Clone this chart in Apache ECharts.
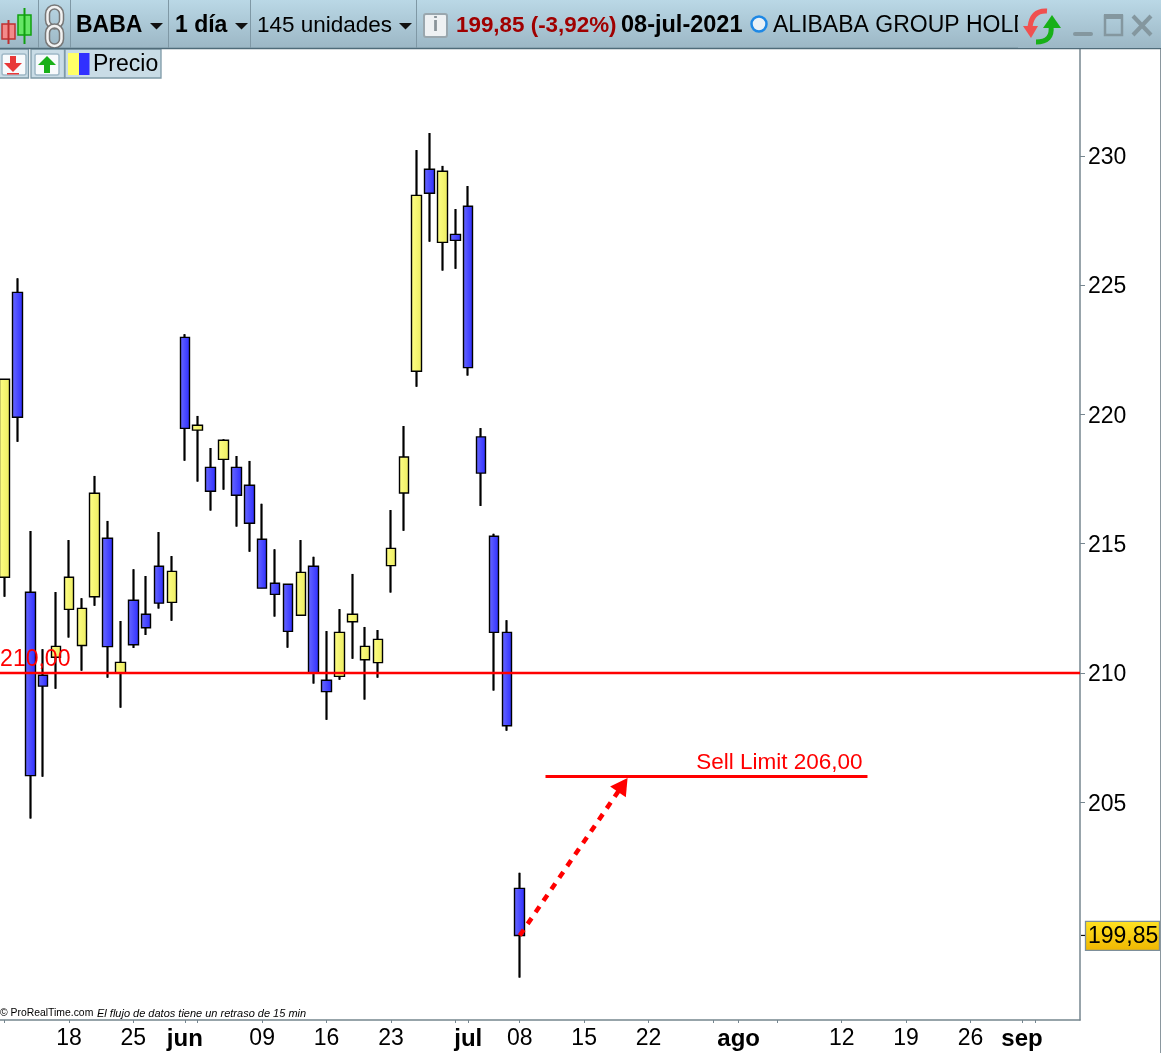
<!DOCTYPE html>
<html>
<head>
<meta charset="utf-8">
<title>BABA</title>
<style>html,body{margin:0;padding:0;background:#fff}#c{width:1161px;height:1053px}</style>
<script src="https://cdn.jsdelivr.net/npm/echarts@6/dist/echarts.min.js"></script>
</head>
<body>
<div id="c"></div>
<script>
const categories = ['05-11','05-12','05-13','05-14','05-17','05-18','05-19','05-20','05-21','05-24','05-25','05-26','05-27','05-28','06-01','06-02','06-03','06-04','06-07','06-08','06-09','06-10','06-11','06-14','06-15','06-16','06-17','06-18','06-21','06-22','06-23','06-24','06-25','06-28','06-29','06-30','07-01','07-02','07-06','07-07','07-08','07-09','07-12','07-13','07-14','07-15','07-16','07-19','07-20','07-21','07-22','07-23','07-26','07-27','07-28','07-29','07-30','08-02','08-03','08-04','08-05','08-06','08-09','08-10','08-11','08-12','08-13','08-16','08-17','08-18','08-19','08-20','08-23','08-24','08-25','08-26','08-27','08-30','08-31','09-01','09-02','09-03','09-06','09-07'];
const opens  = [213.70,224.72,213.12,209.91,210.61,212.46,211.06,212.95,215.21,210.00,212.81,212.27,214.13,212.73,222.98,219.39,217.95,218.26,217.95,217.26,215.17,213.47,213.43,212.23,214.13,209.72,209.87,211.98,210.51,210.40,214.15,216.96,221.67,229.48,226.65,226.96,228.05,219.13,215.29,211.57,201.67];
const closes = [221.36,219.89,206.03,209.49,211.03,213.70,212.50,216.95,211.02,210.41,211.09,211.75,212.70,213.93,219.46,219.58,217.03,219.00,216.87,215.79,213.28,213.04,211.61,213.89,210.00,209.28,211.57,212.27,211.03,211.30,214.82,218.35,228.47,228.55,229.40,226.73,221.81,217.73,211.57,207.96,199.85];
const lows   = [212.95,218.94,204.37,205.99,209.39,211.37,210.09,212.60,209.82,208.66,210.97,211.47,212.49,212.02,218.21,217.40,216.28,217.09,215.66,214.69,213.28,212.18,210.98,212.23,209.59,208.19,209.74,210.55,208.97,209.82,213.11,215.50,221.07,226.68,225.56,225.63,221.50,216.46,209.32,207.77,198.22];
const highs  = [221.36,225.26,215.49,210.92,213.13,215.14,212.89,217.62,215.88,212.01,214.01,213.75,215.45,214.52,223.10,219.94,218.70,219.04,218.39,218.20,216.54,214.78,213.43,215.14,214.49,211.62,212.47,213.83,211.78,211.66,216.30,219.55,230.22,230.88,229.61,227.94,228.83,219.47,215.38,212.04,202.27];
const xTickIndexes = [0,5,10,14,15,20,25,30,35,36,40,45,50,55,57,60,65,70,75,79,80];
const xTickLabels = {5:'18',10:'25',14:'{b|jun}',20:'09',25:'16',30:'23',36:'{b|jul}',40:'08',45:'15',50:'22',57:'{b|ago}',65:'12',70:'19',75:'26',79:'{b|sep}'};
const yTickValues = [205,210,215,220,225,230];
const lastClose = 199.85;
const levelPrice = 210;
const sellLimitPrice = 206;
const sellLimitStart = '07-12';
const sellLimitEnd = '08-16';
const arrowEnd = [47.6, 205.67];

const FONT = '"Liberation Sans", Arial, sans-serif';
const G = echarts.graphic;
const chart = echarts.init(document.getElementById('c'), null, {renderer:'canvas', width:1161, height:1053});
const candleData = categories.slice(0, opens.length).map((c,i)=>[opens[i],closes[i],lows[i],highs[i]]);
const blueFill = new G.LinearGradient(0,0,1,0,[{offset:0,color:'#6a6aff'},{offset:1,color:'#2c2cff'}]);
const yellowFill = new G.LinearGradient(0,0,1,0,[{offset:0,color:'#ffff86'},{offset:1,color:'#ecec60'}]);

const barGrad = new G.LinearGradient(0,0,0,1,[{offset:0,color:'#bad8e6'},{offset:1,color:'#9cb7c5'}]);
function txt(x,y,text,size,opts){opts=opts||{};return {type:'text',silent:true,z:opts.z||20,style:{x:x,y:y+1.5,text:text,fill:opts.fill||'#000',font:(opts.style||'')+' '+(opts.weight||'normal')+' '+size+'px '+FONT,textVerticalAlign:'middle',textAlign:opts.align||'left'}};}
function rect(x,y,w,h,fill,stroke,lw,r,z){return {type:'rect',silent:true,z:z||10,shape:{x:x,y:y,width:w,height:h,r:r||0},style:{fill:fill||'none',stroke:stroke||'none',lineWidth:lw||0}};}
function line(x1,y1,x2,y2,stroke,lw,z){return {type:'line',silent:true,z:z||15,shape:{x1:x1,y1:y1,x2:x2,y2:y2},style:{stroke:stroke,lineWidth:lw||1}};}
function poly(pts,fill,stroke,lw,z){return {type:'polygon',silent:true,z:z||15,shape:{points:pts},style:{fill:fill,stroke:stroke||'none',lineWidth:lw||0}};}
function curve(x1,y1,cx,cy,x2,y2,stroke,lw){return {type:'bezierCurve',silent:true,z:22,shape:{x1:x1,y1:y1,cpx1:cx,cpy1:cy,x2:x2,y2:y2},style:{stroke:stroke,fill:'none',lineWidth:lw}};}
function tri(x,y){return poly([[x,y],[x+13,y],[x+6.5,y+6.5]],'#111');}
const chrome = [
  rect(0,0,1161,48,barGrad),
  line(0,48.5,1161,48.5,'#4f6b79',1.5),
  line(38.5,0,38.5,48,'#7f98a5',1), line(70.5,0,70.5,48,'#7f98a5',1), line(168.5,0,168.5,48,'#7f98a5',1), line(250.5,0,250.5,48,'#7f98a5',1), line(416.5,0,416.5,48,'#7f98a5',1),
  // candle logo
  line(8.5,20,8.5,44,'#c03030',2), rect(2,24,13,15,'#f38a8a','#c03030',1.5),
  line(24.5,8,24.5,44,'#10a010',2), rect(18,15,13,20,'#66e666','#10a010',1.5),
  // chain
  rect(47.5,7,14,20,'none','#777',5.5,7), rect(47.5,7,14,20,'none','#f2f2f2',2.5,7),
  rect(47.5,26,14,20,'none','#777',5.5,7), rect(47.5,26,14,20,'none','#f2f2f2',2.5,7),
  txt(76,24,'BABA',23,{weight:'bold'}), tri(150,23),
  txt(175,24,'1 día',23,{weight:'bold'}), tri(235,23),
  txt(257,24,'145 unidades',22.5), tri(399,23),
  // info
  rect(424,14,23,23,'#eef1f3','#9aa7ae',2,2), txt(435.5,24,'i',20,{weight:'bold',fill:'#8a949a',align:'center'}),
  txt(456,24,'199,85 (-3,92%)',22.4,{weight:'bold',fill:'#a00000'}),
  txt(621,24,'08-jul-2021',23.5,{weight:'bold'}),
  {type:'circle',silent:true,z:15,shape:{cx:759,cy:24,r:7.5},style:{fill:'#e9f1f7',stroke:'#1e88e5',lineWidth:2.5}},
  txt(773,24,'ALIBABA GROUP HOLD',23),
  // clip of the truncated name
  {type:'rect',silent:true,z:21,shape:{x:1018,y:0,width:143,height:48},style:{fill:new G.LinearGradient(0,0,0,1,[{offset:0,color:'#bad8e6'},{offset:1,color:'#9cb7c5'}])}},
  // reload arrows
  curve(1030,27,1032,10,1047,11,'#f05050',5),
  poly([[1023,26],[1038,26],[1031,38]],'#f05050','none',0,22),
  curve(1051,26,1053,42,1036,42,'#18b018',5),
  poly([[1043,28],[1061,28],[1052,15]],'#18b018','none',0,22),
  // window buttons
  rect(1073,32,20,4,'#84979f',null,0,2,22),
  rect(1105,16,17,19,'none','#84979f',2.5,0,22), rect(1104,14,19,5,'#84979f',null,0,0,22),
  line(1133,16,1151,35,'#84979f',4,22), line(1151,16,1133,35,'#84979f',4,22),
  // second row
  rect(-3,49,31.5,29,'#c9dce6','#7d99a7',1.3),
  rect(31,49,33.5,29,'#c9dce6','#7d99a7',1.3),
  rect(65,49,96,29,'#c9dce6','#7d99a7',1.3),
  rect(2,54,24,21,'#f7fafc','#9fb8c6',1.5,2), rect(35,54,24,21,'#f7fafc','#9fb8c6',1.5,2),
  rect(10,56,6,8,'#e83838',null,0,0,16), poly([[4,63],[22,63],[13,72]],'#e83838','none',0,16), rect(7,73,12,1.5,'#e83838',null,0,0,16),
  rect(44,65,6,8,'#18b018',null,0,0,16), poly([[38,65],[56,65],[47,56]],'#18b018','none',0,16),
  rect(68,53,11,22,'#ffff66'), rect(79,53,10.5,22,'#3030ff'),
  txt(93,63,'Precio',23),
  // copyright
  txt(0,1012,'© ProRealTime.com',10.4),
  txt(97,1012,'El flujo de datos tiene un retraso de 15 min',11,{style:'italic'}),
  line(1160.5,49,1160.5,1053,'#8a979e',1)
];

chart.setOption({
  animation:false,
  backgroundColor:'#fff',
  textStyle:{fontFamily:FONT},
  grid:{left:-1.9,right:81,top:49,bottom:33,containLabel:false,outerBoundsMode:'none'},
  xAxis:{type:'category',data:categories,boundaryGap:true,
    axisLine:{show:true,lineStyle:{color:'#76868f',width:1.5}},
    axisTick:{show:true,alignWithLabel:true,length:3,lineStyle:{color:'#76868f',width:1},interval:function(i){return xTickIndexes.indexOf(i)>=0;}},
    axisLabel:{show:true,margin:7,fontSize:23,color:'#000',fontFamily:FONT,hideOverlap:false,
      interval:function(i){return xTickLabels[i]!==undefined;},
      formatter:function(v,i){return xTickLabels[i]||'';},
      rich:{b:{fontSize:24,fontWeight:'bold',color:'#000',fontFamily:FONT}}},
    splitLine:{show:false}},
  yAxis:{type:'value',position:'right',min:196.58,max:234.13,scale:true,
    axisLine:{show:true,onZero:false,lineStyle:{color:'#76868f',width:1.5}},
    axisTick:{show:true,length:5,lineStyle:{color:'#76868f',width:1},customValues:yTickValues},
    axisLabel:{show:true,margin:8,fontSize:23,color:'#000',fontFamily:FONT,customValues:yTickValues,
      formatter:function(v){return '{a|'+v+'}';},
      rich:{a:{fontSize:23,color:'#000',fontFamily:FONT,padding:[4,0,0,0]}}},
    splitLine:{show:false}},
  series:[
    {name:'Mechas',type:'candlestick',data:candleData,barWidth:1,silent:true,z:2,
      itemStyle:{color:'#000',color0:'#000',borderColor:'#000',borderColor0:'#000',borderWidth:2}},
    {name:'Precio',type:'candlestick',data:candleData,barWidth:10,silent:true,z:3,
      itemStyle:{color:yellowFill,color0:blueFill,borderColor:'#000',borderColor0:'#000',borderWidth:1.4},
      markLine:{silent:true,symbol:['none','none'],precision:2,animation:false,z:5,
        data:[
          {yAxis:levelPrice,lineStyle:{color:'#ff0000',width:2.4,type:'solid'},
            label:{show:true,formatter:'210,00',position:'insideStartTop',color:'#ff0000',fontSize:23,fontFamily:FONT,distance:[2,2]}},
          [{coord:[sellLimitStart,sellLimitPrice],lineStyle:{color:'#ff0000',width:3,type:'solid'},
              label:{show:true,formatter:'Sell Limit 206,00',position:'insideEndTop',color:'#ff0000',fontSize:22.5,fontFamily:FONT,distance:[5,2]}},
           {coord:[sellLimitEnd,sellLimitPrice]}],
          [{coord:[categories[opens.length-1],lastClose],symbol:'none',lineStyle:{color:'#ff0000',width:4.5,type:[7,7]},label:{show:false}},
           {coord:arrowEnd,symbol:'triangle',symbolSize:[19,17],itemStyle:{color:'#ff0000'}}]
        ]}}
  ]
});

const py = chart.convertToPixel({yAxisIndex:0}, lastClose);
chart.setOption({graphic:{elements:chrome.concat([
  line(1081,py,1085,py,'#111',1.2),
  rect(1085.5,py-14,74,29,new G.LinearGradient(0,0,0,1,[{offset:0,color:'#ffe322'},{offset:1,color:'#efb600'}]),'#7d8f9a',1.3),
  txt(1088,py-0.5,'199,85',23)
])}});
</script>
</body>
</html>
